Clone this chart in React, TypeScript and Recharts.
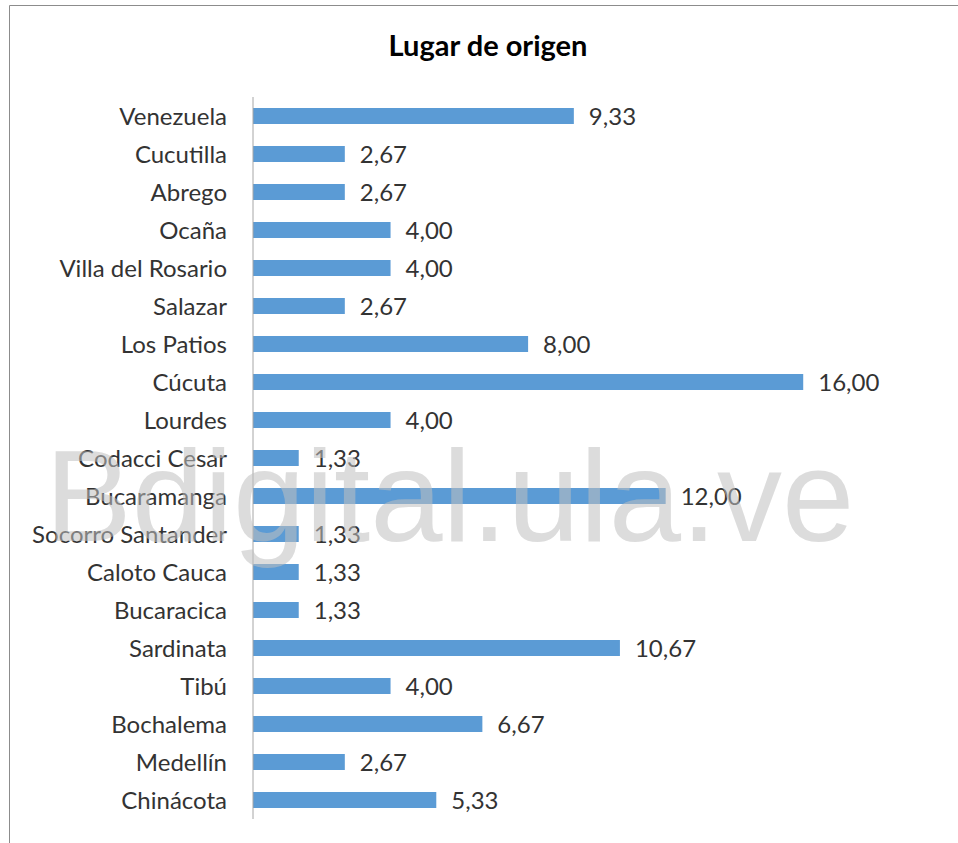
import React from "react";
import { BarChart, Bar, XAxis, YAxis, LabelList } from "recharts";

const categories: string[] = [
  "Venezuela",
  "Cucutilla",
  "Abrego",
  "Ocaña",
  "Villa del Rosario",
  "Salazar",
  "Los Patios",
  "Cúcuta",
  "Lourdes",
  "Codacci Cesar",
  "Bucaramanga",
  "Socorro Santander",
  "Caloto Cauca",
  "Bucaracica ",
  "Sardinata",
  "Tibú",
  "Bochalema",
  "Medellín",
  "Chinácota",
];

const values: number[] = [
  9.33, 2.67, 2.67, 4.0, 4.0, 2.67, 8.0, 16.0, 4.0, 1.33, 12.0, 1.33, 1.33, 1.33,
  10.67, 4.0, 6.67, 2.67, 5.33,
];

const title = "Lugar de origen";
const watermark = "Bdigital.ula.ve";

const data = categories.map((name, i) => ({ name, value: values[i] }));

const FONT = "Lato, 'Open Sans', sans-serif";
const TEXT = "#333333";

const fmt = (v: any) => Number(v).toFixed(2).replace(".", ",");

export default function App() {
  return (
    <div style={{ position: "absolute", left: 0, top: 0, width: 958, height: 843, background: "#fff", overflow: "hidden" }}>
      <BarChart
        width={958}
        height={843}
        data={data}
        layout="vertical"
        margin={{ top: 97, right: 86, bottom: 24, left: 0 }}
        barSize={16}
      >
        <XAxis type="number" domain={[0, 18]} hide />
        <YAxis
          type="category"
          dataKey="name"
          width={253}
          tickLine={false}
          tickSize={0}
          tickMargin={26}
          axisLine={{ stroke: "#a6a6a6", strokeWidth: 1 }}
          tick={{ fontFamily: FONT, fontSize: 24, fill: TEXT }}
          interval={0}
        />
        <Bar dataKey="value" fill="#5b9bd5" isAnimationActive={false}>
          <LabelList
            dataKey="value"
            position="right"
            offset={15}
            formatter={fmt}
            style={{ fontFamily: FONT, fontSize: 24, fill: TEXT }}
          />
        </Bar>
      </BarChart>
      <svg
        width={958}
        height={843}
        style={{ position: "absolute", left: 0, top: 0, pointerEvents: "none" }}
      >
        <line x1={9.5} y1={5.5} x2={958} y2={5.5} stroke="#8c8c8c" strokeWidth={1} />
        <line x1={9.5} y1={5.5} x2={9.5} y2={843} stroke="#8c8c8c" strokeWidth={1} />
        <text
          x={488}
          y={56}
          textAnchor="middle"
          fontFamily={FONT}
          fontWeight="bold"
          fontSize={29}
          fill="#000"
        >
          {title}
        </text>
        <text
          x={45}
          y={541}
          fontFamily="'Liberation Sans', Arial, sans-serif"
          fontSize={130}
          fill="#bfbfbf"
          fillOpacity={0.55}
        >
          {watermark}
        </text>
      </svg>
    </div>
  );
}
